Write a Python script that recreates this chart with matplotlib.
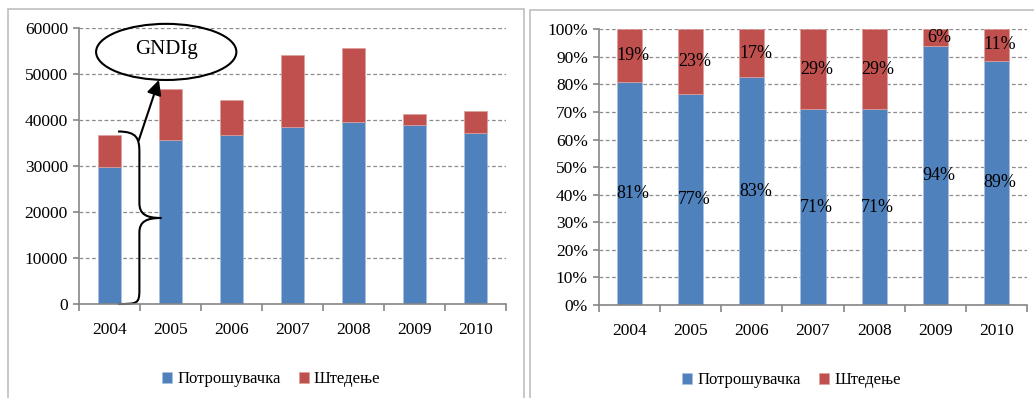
import numpy as np
import matplotlib
matplotlib.use("Agg")
import matplotlib.pyplot as plt
from matplotlib.patches import Ellipse, Rectangle, PathPatch, FancyArrowPatch
from matplotlib.path import Path
from matplotlib.ticker import FuncFormatter

years = ["2004", "2005", "2006", "2007", "2008", "2009", "2010"]
consumption = [29700, 35700, 36650, 38400, 39550, 38900, 37200]
savings = [7100, 11000, 7700, 15750, 16100, 2450, 4750]
cons_labels = [81, 77, 83, 71, 71, 94, 89]
sav_labels = [19, 23, 17, 29, 29, 6, 11]
series_names = ["Потрошувачка", "Штедење"]

BLUE = "#4F81BD"
RED = "#C0504D"
GRID = "#8C8C8C"
AXIS = "#868686"

plt.rcParams['font.family'] = ['Liberation Serif', 'DejaVu Serif']
plt.rcParams['font.size'] = 12.5

W, H = 1034, 398
fig = plt.figure(figsize=(W / 100, H / 100), dpi=100)

# panel frames
for x0, x1, y0 in [(8, 524, 9), (530, 1040, 10)]:
    fig.patches.append(Rectangle((x0 / W, -0.1), (x1 - x0) / W, 1.1 - y0 / H,
                                 transform=fig.transFigure, fill=False,
                                 edgecolor="#BFBFBF", lw=1.2))


def style_axes(ax):
    ax.set_xlim(-0.5, len(years) - 0.5)
    for s in ["top", "right"]:
        ax.spines[s].set_visible(False)
    for s in ["left", "bottom"]:
        ax.spines[s].set_color(AXIS)
        ax.spines[s].set_linewidth(1.2)
    ax.yaxis.grid(True, linestyle=(0, (3, 2)), color=GRID, lw=0.9)
    ax.set_axisbelow(True)
    ax.set_xticks(np.arange(len(years) + 1) - 0.5)
    ax.set_xticklabels([])
    ax.set_xticks(np.arange(len(years)), minor=True)
    ax.set_xticklabels(years, minor=True)
    ax.tick_params(axis="x", which="major", length=5, color=AXIS, width=1.2)
    ax.tick_params(axis="x", which="minor", length=0, pad=13)
    ax.tick_params(axis="y", length=4, color=AXIS, width=1.2, pad=4)
    ax.legend(loc="upper center", bbox_to_anchor=(0.45, -0.19), ncol=2,
              frameon=False, handlelength=0.6, handleheight=0.6,
              handletextpad=0.3, columnspacing=1.1, fontsize=12)


# left: absolute values
ax1 = fig.add_axes([79 / W, 1 - 304 / H, 427 / W, 276 / H])
x = np.arange(len(years))
ax1.bar(x, consumption, 0.38, color=BLUE, label=series_names[0],
        edgecolor="#A9C0DE", lw=0.5)
ax1.bar(x, savings, 0.38, bottom=consumption, color=RED, label=series_names[1],
        edgecolor="#DCA09E", lw=0.5)
ax1.set_ylim(0, 60000)
ax1.set_yticks(np.arange(0, 60001, 10000))
style_axes(ax1)

# GNDIg annotation
ax1.add_patch(Ellipse((0.93, 54800), 2.3, 12200, fill=False, lw=1.5,
                      color="black", clip_on=False))
ax1.text(0.93, 55400, "GNDIg", ha="center", va="center", fontsize=15)
verts = [(0.14, 37500), (0.45, 37500), (0.49, 36000), (0.49, 33000),
         (0.49, 22000),
         (0.49, 19500), (0.6, 18700), (0.85, 18700),
         (0.6, 18700), (0.49, 17900), (0.49, 15500),
         (0.49, 3000),
         (0.49, 0), (0.45, 0), (0.14, 0)]
codes = [Path.MOVETO, Path.CURVE4, Path.CURVE4, Path.CURVE4, Path.LINETO,
         Path.CURVE4, Path.CURVE4, Path.CURVE4,
         Path.CURVE4, Path.CURVE4, Path.CURVE4,
         Path.LINETO,
         Path.CURVE4, Path.CURVE4, Path.CURVE4]
ax1.add_patch(PathPatch(Path(verts, codes), fill=False, lw=1.5, clip_on=False))
ax1.add_patch(FancyArrowPatch((0.48, 35600), (0.81, 48700), arrowstyle="-|>",
                              mutation_scale=22, lw=1.5, color="black",
                              shrinkA=0, shrinkB=0))

# right: shares
ax2 = fig.add_axes([599 / W, 1 - 305 / H, 428 / W, 275.7 / H])
tot = np.array(consumption) + np.array(savings)
c_share = np.array(consumption) / tot
s_share = np.array(savings) / tot
ax2.bar(x, c_share, 0.41, color=BLUE, label=series_names[0],
        edgecolor="#A9C0DE", lw=0.5)
ax2.bar(x, s_share, 0.41, bottom=c_share, color=RED, label=series_names[1],
        edgecolor="#DCA09E", lw=0.5)
for i in range(len(years)):
    ax2.text(x[i] + 0.06, c_share[i] / 2, f"{cons_labels[i]}%", ha="center",
             va="center", fontsize=13)
    ax2.text(x[i] + 0.06, c_share[i] + s_share[i] / 2, f"{sav_labels[i]}%",
             ha="center", va="center", fontsize=13)
ax2.set_ylim(0, 1)
ax2.set_yticks(np.arange(0, 1.01, 0.1))
ax2.yaxis.set_major_formatter(FuncFormatter(lambda v, p: f"{v * 100:.0f}%"))
style_axes(ax2)

fig.savefig("out.png", dpi=100)
